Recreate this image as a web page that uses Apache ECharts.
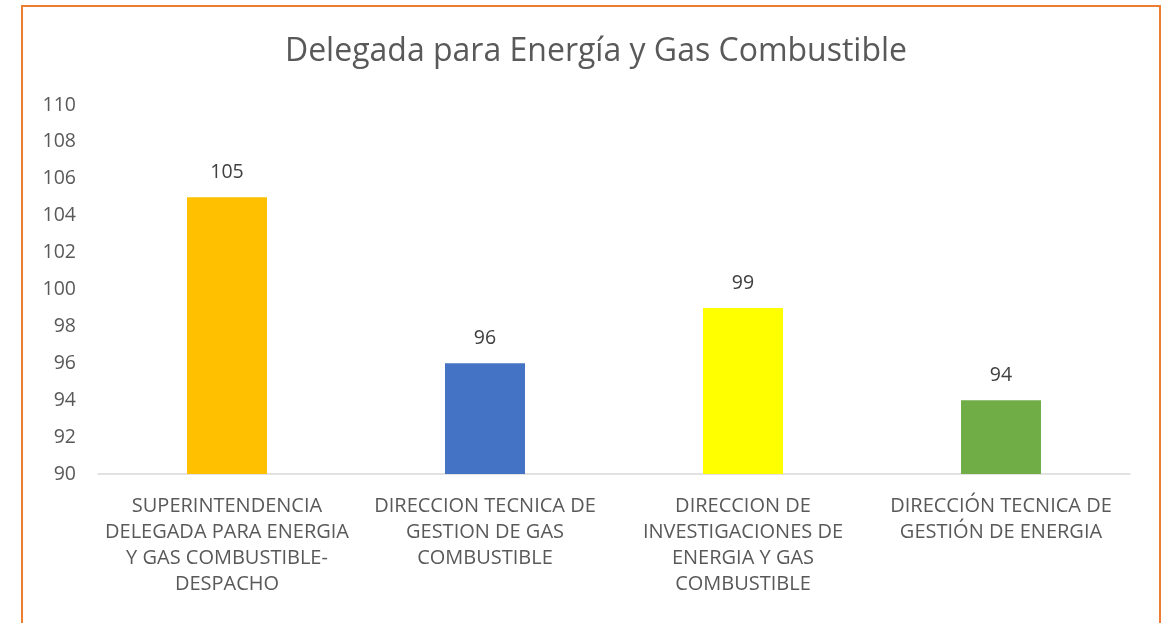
<!DOCTYPE html>
<html>
<head>
<meta charset="utf-8">
<script src="https://cdn.jsdelivr.net/npm/echarts@6/dist/echarts.min.js"></script>
<style>
	html, body { margin: 0; padding: 0; background: #fff; }
	#chart { width: 1164px; height: 623px; }
</style>
</head>
<body>
<div id="chart"></div>
<script>
	var titleText = 'Delegada para Energía y Gas Combustible';
	var categories = [
		'SUPERINTENDENCIA\nDELEGADA PARA ENERGIA\nY GAS COMBUSTIBLE-\nDESPACHO',
		'DIRECCION TECNICA DE\nGESTION DE GAS\nCOMBUSTIBLE',
		'DIRECCION DE\nINVESTIGACIONES DE\nENERGIA Y GAS\nCOMBUSTIBLE',
		'DIRECCIÓN TECNICA DE\nGESTIÓN DE ENERGIA'
	];
	var values = [105, 96, 99, 94];
	var barColors = ['#FFC000', '#4472C4', '#FFFF00', '#70AD47'];

	var fontName = '"Open Sans", sans-serif';
	var myChart = echarts.init(document.getElementById('chart'));

	var option = {
		animation: false,
		backgroundColor: '#fff',
		title: {
			text: titleText,
			left: 591,
			textAlign: 'center',
			top: 31,
			textStyle: { fontFamily: fontName, fontSize: 32, fontWeight: 'normal', color: '#595959' }
		},
		graphic: [{
			type: 'rect',
			shape: { x: 22, y: 6, width: 1138, height: 700 },
			style: { fill: 'none', stroke: '#ED7D31', lineWidth: 2 },
			z: 100
		}],
		grid: { left: 98, right: 34, top: 105, bottom: 149 },
		xAxis: {
			type: 'category',
			data: categories,
			axisLine: { lineStyle: { color: '#D9D9D9', width: 1.5 } },
			axisTick: { show: false },
			axisLabel: {
				interval: 0,
				margin: 19,
				fontFamily: fontName,
				fontSize: 20,
				lineHeight: 26,
				color: '#595959',
				align: 'center'
			}
		},
		yAxis: {
			type: 'value',
			min: 90,
			max: 110,
			interval: 2,
			splitLine: { show: false },
			axisLine: { show: false },
			axisTick: { show: false },
			axisLabel: { fontFamily: fontName, fontSize: 19.5, color: '#595959', margin: 22 }
		},
		series: [{
			type: 'bar',
			barWidth: '31%',
			data: values.map(function(v, i) {
				return { value: v, itemStyle: { color: barColors[i] } };
			}),
			label: {
				show: true,
				position: 'top',
				distance: 15,
				fontFamily: fontName,
				fontSize: 19.5,
				color: '#404040'
			}
		}]
	};
	myChart.setOption(option);
</script>
</body>
</html>
